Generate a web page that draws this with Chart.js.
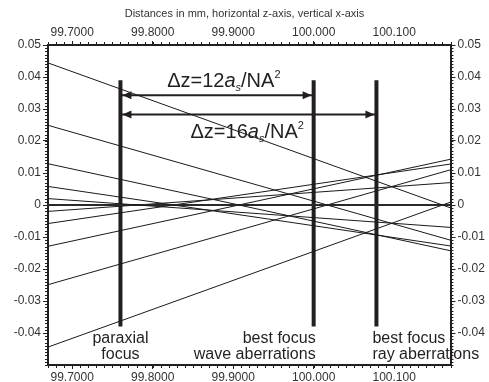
<!DOCTYPE html>
<html>
<head>
<meta charset="utf-8">
<script src="https://cdn.jsdelivr.net/npm/chart.js@4"></script>
<style>
  html, body { margin: 0; padding: 0; background: #fff; }
  #wrap { width: 489px; height: 382px; }
</style>
</head>
<body>
<div id="wrap"><canvas id="rayChart"></canvas></div>
<script>
// axis ranges and ticks
const zRange = [99.67, 100.17];
const xRange = [-0.05, 0.05];
const zTicks = [99.7, 99.8, 99.9, 100.0, 100.1];
const xTicks = [-0.04, -0.03, -0.02, -0.01, 0, 0.01, 0.02, 0.03, 0.04, 0.05];

// rays: height at left edge and right edge of the plot
const rayLeft  = [0.0444, 0.0249, 0.0129, 0.0058, 0.0020, 0, -0.0020, -0.0058, -0.0129, -0.0249, -0.0444];
const rayRight = [-0.0009, -0.0110, -0.0143, -0.0128, -0.0070, 0, 0.0070, 0.0128, 0.0143, 0.0110, 0.0009];

// focus planes
const focusZ = [99.76, 100.0, 100.078];
const focusSpan = [0.039, -0.038];
const focusLabels = [["paraxial", "focus"], ["best focus", "wave aberrations"], ["best focus", "ray aberrations"]];

// dz arrows (from paraxial focus to focus 1 and 2)
const arrowX = [0.0343, 0.0283];
const arrowFactor = ["12", "16"];

const FONT = "'Liberation Sans', Arial, sans-serif";
const INK = "#231f20";

const datasets = [];
rayLeft.forEach((l, i) => {
  datasets.push({
    data: [{ x: zRange[0], y: l }, { x: zRange[1], y: rayRight[i] }],
    borderColor: l === 0 ? "#2a2a2a" : "#1a1a1a",
    borderWidth: l === 0 ? 2 : 1,
    pointRadius: 0
  });
});
focusZ.forEach(z => {
  datasets.push({
    data: [{ x: z, y: focusSpan[0] }, { x: z, y: focusSpan[1] }],
    borderColor: INK,
    borderWidth: 4,
    pointRadius: 0
  });
});
arrowX.forEach((y, i) => {
  datasets.push({
    data: [{ x: focusZ[0], y: y }, { x: focusZ[i + 1], y: y }],
    borderColor: INK,
    borderWidth: 2,
    pointRadius: 0
  });
});

// minor ticks + annotations
const extras = {
  id: "extras",
  afterDatasetsDraw(chart) {
    const ctx = chart.ctx;
    const xs = chart.scales.x, ys = chart.scales.y;
    const a = chart.chartArea;
    ctx.save();
    ctx.strokeStyle = INK;
    ctx.lineWidth = 1;
    ctx.beginPath();
    for (let k = 0; k <= 50; k++) {
      const px = Math.round(xs.getPixelForValue(zRange[0] + k * 0.01)) + 0.5;
      ctx.moveTo(px, a.bottom); ctx.lineTo(px, a.bottom + 3);
      ctx.moveTo(px, a.top); ctx.lineTo(px, a.top - 3);
    }
    for (let k = 0; k <= 100; k++) {
      const py = Math.round(ys.getPixelForValue(xRange[0] + k * 0.001)) + 0.5;
      ctx.moveTo(a.left - 3, py); ctx.lineTo(a.left, py);
      ctx.moveTo(a.right, py); ctx.lineTo(a.right + 3, py);
    }
    ctx.stroke();

    // arrow heads
    ctx.fillStyle = INK;
    arrowX.forEach((y, i) => {
      const py = ys.getPixelForValue(y);
      const x0 = xs.getPixelForValue(focusZ[0]) + 2;
      const x1 = xs.getPixelForValue(focusZ[i + 1]) - 2;
      ctx.beginPath();
      ctx.moveTo(x0, py); ctx.lineTo(x0 + 9, py - 4); ctx.lineTo(x0 + 9, py + 4); ctx.closePath();
      ctx.fill();
      ctx.beginPath();
      ctx.moveTo(x1, py); ctx.lineTo(x1 - 9, py - 4); ctx.lineTo(x1 - 9, py + 4); ctx.closePath();
      ctx.fill();
    });

    // dz formulas
    const anchors = [[99.818, 0.0368], [99.847, 0.0208]];
    arrowFactor.forEach((f, i) => {
      let x = xs.getPixelForValue(anchors[i][0]);
      const base = ys.getPixelForValue(anchors[i][1]);
      const parts = [
        { t: "\u0394z=" + f, f: "20px " + FONT, dy: 0 },
        { t: "a", f: "italic 20px " + FONT, dy: 0 },
        { t: "s", f: "italic 11px " + FONT, dy: 4 },
        { t: "/NA", f: "20px " + FONT, dy: 0 },
        { t: "2", f: "11px " + FONT, dy: -9 }
      ];
      ctx.textBaseline = "alphabetic";
      ctx.textAlign = "left";
      parts.forEach(p => {
        ctx.font = p.f;
        ctx.fillText(p.t, x, base + p.dy);
        x += ctx.measureText(p.t).width;
      });
    });

    // focus labels
    ctx.font = "16px " + FONT;
    const bottom = ys.getPixelForValue(focusSpan[1]);
    const aligns = ["center", "right", "left"];
    const shift = [0, 2, -4];
    focusLabels.forEach((lines, i) => {
      const px = xs.getPixelForValue(focusZ[i]) + shift[i];
      ctx.textAlign = aligns[i];
      lines.forEach((s, j) => ctx.fillText(s, px, bottom + 16 + j * 16));
    });
    ctx.restore();
  }
};

function xAxis(pos, h) {
  return {
    type: "linear",
    position: pos,
    min: zRange[0],
    max: zRange[1],
    afterBuildTicks: s => { s.ticks = zTicks.map(v => ({ value: v })); },
    afterFit: s => { s.height = h; },
    ticks: {
      callback: v => Number(v).toPrecision(6),
      font: { family: FONT, size: 12 },
      color: "#333",
      padding: 1,
      maxRotation: 0,
      autoSkip: false
    },
    grid: { drawOnChartArea: false, tickLength: 4, color: INK, lineWidth: 1 },
    border: { color: INK, width: 2 }
  };
}

function yAxis(pos, w) {
  return {
    type: "linear",
    position: pos,
    min: xRange[0],
    max: xRange[1],
    afterBuildTicks: s => { s.ticks = xTicks.map(v => ({ value: v })); },
    afterFit: s => { s.width = w; },
    ticks: {
      callback: v => (Math.abs(v) < 1e-9 ? "0" : Number(v).toFixed(2)),
      font: { family: FONT, size: 12 },
      color: "#333",
      padding: 2,
      autoSkip: false
    },
    grid: { drawOnChartArea: false, tickLength: 5, color: INK, lineWidth: 1 },
    border: { color: INK, width: 2 }
  };
}

new Chart(document.getElementById("rayChart"), {
  type: "line",
  data: { datasets: datasets },
  options: {
    responsive: true,
    maintainAspectRatio: false,
    animation: false,
    parsing: true,
    layout: { padding: 0 },
    plugins: {
      legend: { display: false },
      tooltip: { enabled: false },
      title: {
        display: true,
        text: "Distances in mm, horizontal z-axis, vertical x-axis",
        font: { family: FONT, size: 11, weight: "normal" },
        color: "#333",
        padding: { top: 7, bottom: 0 }
      }
    },
    scales: {
      x: xAxis("bottom", 17),
      x2: xAxis("top", 24.8),
      y: yAxis("left", 48),
      y2: yAxis("right", 38.5)
    }
  },
  plugins: [extras]
});
</script>
</body>
</html>
